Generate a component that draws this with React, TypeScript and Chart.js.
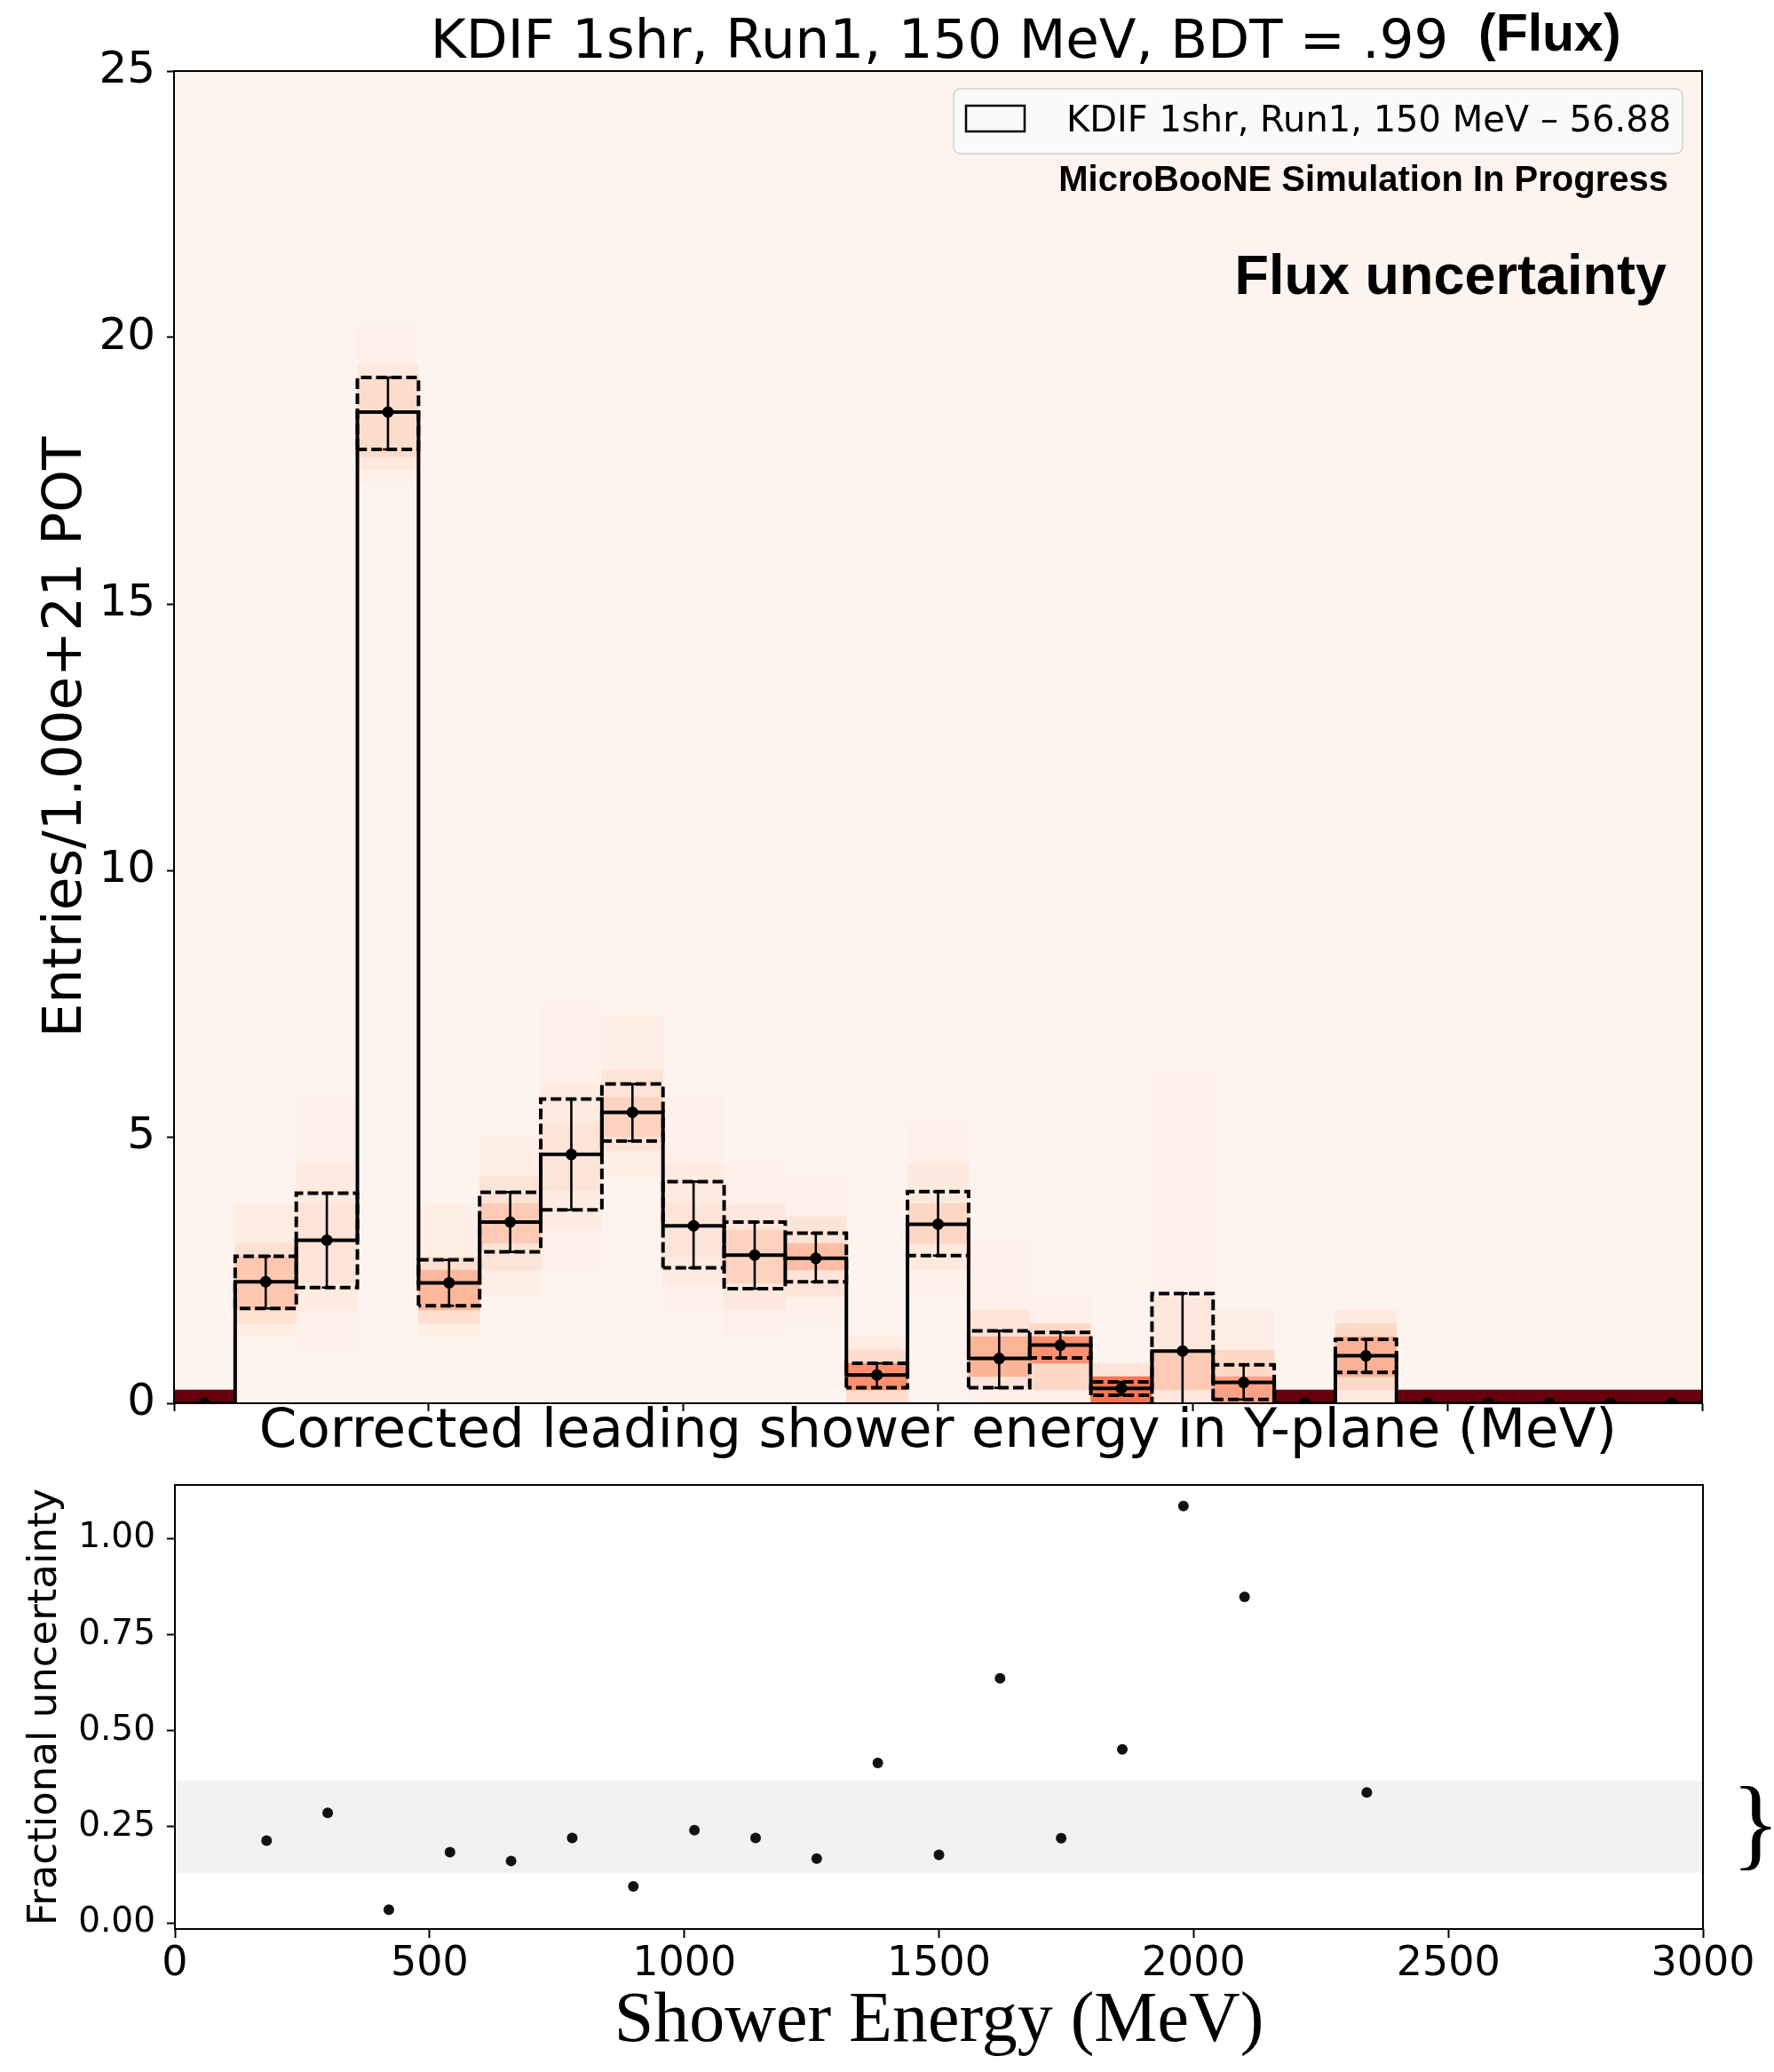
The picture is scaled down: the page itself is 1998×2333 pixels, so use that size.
import React, { useEffect, useRef } from "react";
import { Chart, registerables } from "chart.js";

Chart.register(...registerables);

// ---------------- data ----------------
const binEdges = [0, 120, 240, 360, 480, 600, 720, 840, 960, 1080, 1200, 1320, 1440, 1560, 1680, 1800, 1920, 2040, 2160, 2280, 2400, 2520, 2640, 2760, 2880, 3000];
const binCenters = [60, 180, 300, 420, 540, 660, 780, 900, 1020, 1140, 1260, 1380, 1500, 1620, 1740, 1860, 1980, 2100, 2220, 2340, 2460, 2580, 2700, 2820, 2940];
const entries = [0, 2.28, 3.06, 18.6, 2.26, 3.4, 4.67, 5.46, 3.33, 2.78, 2.72, 0.53, 3.36, 0.84, 1.09, 0.28, 0.98, 0.39, 0, 0.89, 0, 0, 0, 0, 0];
const upperVar = [null, 2.76, 3.94, 19.25, 2.69, 3.96, 5.71, 5.99, 4.16, 3.4, 3.19, 0.75, 3.97, 1.36, 1.33, 0.4, 2.06, 0.72, null, 1.2, null, null, null, null, null];
const lowerVar = [null, 1.78, 2.17, 17.9, 1.83, 2.84, 3.63, 4.92, 2.54, 2.15, 2.28, 0.29, 2.77, 0.29, 0.85, 0.15, -0.08, 0.07, null, 0.58, null, null, null, null, null];

// heat map of the universes (bands of cells per bin, level on the Reds scale)
const haloLo = [null, 1.25, 1.0, 17.25, 1.25, 2.0, 2.5, 4.25, 1.75, 1.25, 1.5, 0, 2.0, 0, 0, 0, 0, 0, null, 0, null, null, null, null, null];
const haloHi = [null, 3.75, 5.75, 20.25, 3.75, 5.0, 7.5, 7.25, 5.75, 4.5, 4.25, 1.25, 5.25, 3.0, 2.0, 0.75, 6.25, 1.75, null, 1.75, null, null, null, null, null];
const haloLv = [0, 0.05, 0.03, 0.03, 0.04, 0.04, 0.03, 0.04, 0.03, 0.03, 0.03, 0.05, 0.03, 0.03, 0.03, 0.1, 0.025, 0.04, 0, 0.06, 0, 0, 0, 0, 0];
const midLo = [null, 1.5, 1.75, 17.5, 1.5, 2.5, 3.25, 4.75, 2.25, 1.75, 2.0, 0, 2.5, 0.25, 0.25, null, 0, 0, null, 0.25, null, null, null, null, null];
const midHi = [null, 3.0, 4.5, 19.5, 2.75, 4.25, 6.0, 6.25, 4.5, 3.75, 3.5, 1.0, 4.5, 1.75, 1.5, null, 2.0, 1.0, null, 1.5, null, null, null, null, null];
const midLv = [0, 0.12, 0.06, 0.07, 0.13, 0.1, 0.06, 0.1, 0.06, 0.08, 0.1, 0.14, 0.07, 0.1, 0.15, 0, 0.08, 0.15, 0, 0.15, 0, 0, 0, 0, 0];
const coreLo = [null, 1.75, 2.25, 17.75, 1.75, 3.0, 4.0, 5.0, 2.75, 2.25, 2.5, 0.25, 3.0, 0.5, 0.75, 0, 0.25, 0, null, 0.5, null, null, null, null, null];
const coreHi = [null, 2.75, 3.75, 19.25, 2.5, 3.75, 5.25, 5.75, 3.75, 3.25, 3.0, 0.75, 3.75, 1.25, 1.25, 0.5, 1.0, 0.5, null, 1.25, null, null, null, null, null];
const coreLv = [0, 0.21, 0.1, 0.14, 0.26, 0.2, 0.1, 0.17, 0.1, 0.17, 0.24, 0.38, 0.16, 0.27, 0.38, 0.47, 0.2, 0.33, 0, 0.28, 0, 0, 0, 0, 0];
const emptyCellTop = [0.25, null, null, null, null, null, null, null, null, null, null, null, null, null, null, null, null, null, 0.25, null, 0.25, 0.25, 0.25, 0.25, 0.25];

const fracEnergy = [180, 300, 420, 540, 660, 780, 900, 1020, 1140, 1260, 1380, 1500, 1620, 1740, 1860, 1980, 2100, 2340];
const fracUnc = [0.214, 0.286, 0.034, 0.184, 0.161, 0.221, 0.095, 0.241, 0.221, 0.167, 0.416, 0.177, 0.636, 0.22, 0.451, 1.084, 0.848, 0.339];
const bandRange = [0.13, 0.37];

const xTicks = [0, 500, 1000, 1500, 2000, 2500, 3000];
const yTicksTop = [0, 5, 10, 15, 20, 25];
const yTicksBottom = [0, 0.25, 0.5, 0.75, 1.0];

const titleText = "KDIF 1shr, Run1, 150 MeV, BDT = .99";
const legendLabel = "KDIF 1shr, Run1, 150 MeV \u2013 56.88";

// ---------------- style helpers ----------------
const REDS = [
  [255, 245, 240], [254, 224, 210], [252, 187, 161], [252, 146, 114], [251, 106, 74],
  [239, 59, 44], [203, 24, 29], [165, 15, 21], [103, 0, 13],
];
function reds(t: number) {
  const p = Math.max(0, Math.min(1, t)) * 8;
  const i = Math.min(7, Math.floor(p));
  const f = p - i;
  const a = REDS[i], b = REDS[i + 1];
  const c = a.map((v, k) => Math.round(v + (b[k] - v) * f));
  return `rgb(${c[0]},${c[1]},${c[2]})`;
}
const BG = "rgb(253,244,239)";
const SANS = "'DejaVu Sans'";
const BOLD = "'Liberation Sans', Arial, sans-serif";
const CAP = 10; // half cap width in MeV

function band(lo: any[], hi: any[], lv: number[]) {
  const ii = binCenters.map((_, i) => i).filter((i) => lo[i] != null && hi[i] != null);
  return {
    data: ii.map((i) => ({ x: binCenters[i], y: [lo[i], hi[i]] })),
    colors: ii.map((i) => reds(lv[i])),
  };
}

function rectPoints() {
  const pts: any[] = [];
  binCenters.forEach((_, i) => {
    if (upperVar[i] == null) return;
    const l = binEdges[i], r = binEdges[i + 1];
    pts.push({ x: l, y: lowerVar[i] }, { x: l, y: upperVar[i] }, { x: r, y: upperVar[i] }, { x: r, y: lowerVar[i] }, { x: l, y: lowerVar[i] }, { x: l, y: null });
  });
  return pts;
}

function errorPoints() {
  const pts: any[] = [];
  binCenters.forEach((x, i) => {
    if (upperVar[i] == null) return;
    const lo = Math.max(0, lowerVar[i] as number);
    pts.push({ x, y: lo }, { x, y: upperVar[i] }, { x, y: null });
    pts.push({ x: x - CAP, y: upperVar[i] }, { x: x + CAP, y: upperVar[i] }, { x, y: null });
    if ((lowerVar[i] as number) > 0) pts.push({ x: x - CAP, y: lowerVar[i] }, { x: x + CAP, y: lowerVar[i] }, { x, y: null });
  });
  return pts;
}

const framePlugin = {
  id: "frame",
  beforeDatasetsDraw(chart: any, _a: any, opts: any) {
    if (!opts.bg) return;
    const { ctx, chartArea: c } = chart;
    ctx.save();
    ctx.fillStyle = opts.bg;
    ctx.fillRect(c.left, c.top, c.right - c.left, c.bottom - c.top);
    ctx.restore();
  },
  afterDatasetsDraw(chart: any) {
    const { ctx, chartArea: c } = chart;
    ctx.save();
    ctx.strokeStyle = "#000";
    ctx.lineWidth = 2;
    ctx.strokeRect(c.left, c.top, c.right - c.left, c.bottom - c.top);
    ctx.restore();
  },
};

const topTextPlugin = {
  id: "topText",
  afterDraw(chart: any) {
    const ctx = chart.ctx;
    ctx.save();
    ctx.fillStyle = "#000";
    ctx.textBaseline = "alphabetic";
    ctx.font = `61px ${SANS}`;
    ctx.textAlign = "center";
    ctx.fillText(titleText, 1058, 65);
    ctx.font = `bold 59px ${BOLD}`;
    ctx.textAlign = "left";
    ctx.fillText("(Flux)", 1665, 57);
    // legend
    ctx.beginPath();
    ctx.roundRect(1074, 100, 821, 73, 8);
    ctx.fillStyle = "#fafafa";
    ctx.fill();
    ctx.strokeStyle = "#d0d0d0";
    ctx.lineWidth = 1.5;
    ctx.stroke();
    ctx.fillStyle = "#f8f8f8";
    ctx.fillRect(1088, 119, 66, 29);
    ctx.strokeStyle = "#000";
    ctx.lineWidth = 2.5;
    ctx.strokeRect(1088, 119, 66, 29);
    ctx.fillStyle = "#000";
    ctx.font = `40px ${SANS}`;
    ctx.fillText(legendLabel, 1201, 148);
    ctx.textAlign = "right";
    ctx.font = `bold 40px ${BOLD}`;
    ctx.fillText("MicroBooNE Simulation In Progress", 1879, 215);
    ctx.font = `bold 63px ${BOLD}`;
    ctx.fillText("Flux uncertainty", 1877, 331);
    ctx.restore();
  },
};

const bottomTextPlugin = {
  id: "bottomText",
  afterDraw(chart: any) {
    const ctx = chart.ctx;
    ctx.save();
    ctx.fillStyle = "#000";
    ctx.font = `114px 'Liberation Serif', serif`;
    ctx.textAlign = "left";
    ctx.textBaseline = "alphabetic";
    ctx.fillText("}", 1950, 441);
    ctx.translate(51, 272);
    ctx.rotate(-Math.PI / 2);
    ctx.font = `45px ${SANS}`;
    ctx.textAlign = "center";
    ctx.textBaseline = "middle";
    ctx.fillText("Fractional uncertainty", 0, 0);
    ctx.restore();
  },
};

export default function App() {
  const topRef = useRef<HTMLCanvasElement>(null);
  const botRef = useRef<HTMLCanvasElement>(null);

  useEffect(() => {
    Chart.defaults.font.family = SANS;
    Chart.defaults.color = "#000";

    const halo = band(haloLo, haloHi, haloLv);
    const mid = band(midLo, midHi, midLv);
    const core = band(coreLo, coreHi, coreLv);
    const emptyCells = band(binCenters.map((_, i) => (emptyCellTop[i] == null ? null : 0)), emptyCellTop, binCenters.map(() => 1));

    const barCommon = { type: "bar", grouped: false, categoryPercentage: 1, barPercentage: 1, borderWidth: 0 };

    const top = new Chart(topRef.current as HTMLCanvasElement, {
      type: "bar",
      data: {
        datasets: [
          {
            type: "line",
            data: binCenters.map((x, i) => ({ x, y: entries[i] })),
            showLine: false,
            pointRadius: 6.5,
            pointBackgroundColor: "#000",
            pointBorderWidth: 0,
            clip: 0,
            order: 0,
          },
          {
            type: "line",
            data: errorPoints(),
            borderColor: "#000",
            borderWidth: 2.6,
            pointRadius: 0,
            spanGaps: false,
            order: 1,
          },
          {
            type: "line",
            data: rectPoints(),
            borderColor: "#000",
            borderWidth: 4,
            borderDash: [12, 5],
            pointRadius: 0,
            spanGaps: false,
            order: 2,
          },
          {
            type: "line",
            data: binEdges.map((x, i) => ({ x, y: entries[Math.min(i, entries.length - 1)] })),
            stepped: true,
            borderColor: "#000",
            borderWidth: 4,
            pointRadius: 0,
            order: 3,
          },
          { ...barCommon, data: emptyCells.data, backgroundColor: emptyCells.colors, order: 10 },
          { ...barCommon, data: core.data, backgroundColor: core.colors, order: 11 },
          { ...barCommon, data: mid.data, backgroundColor: mid.colors, order: 12 },
          { ...barCommon, data: halo.data, backgroundColor: halo.colors, order: 13 },
        ] as any,
      },
      options: {
        animation: false,
        responsive: false,
        devicePixelRatio: 1,
        layout: { padding: { left: 35, right: 81, top: 80, bottom: 0 } },
        plugins: { legend: { display: false }, tooltip: { enabled: false }, frame: { bg: BG } } as any,
        scales: {
          x: {
            type: "linear",
            min: 0,
            max: 3000,
            offset: false,
            afterBuildTicks: (s: any) => { s.ticks = xTicks.map((value) => ({ value })); },
            afterFit: (s: any) => { s.height = 70; s.paddingLeft = 0; s.paddingRight = 0; },
            ticks: { display: false },
            grid: { drawOnChartArea: false, drawTicks: true, tickLength: 9, tickColor: "#000", tickWidth: 2, offset: false },
            border: { display: false },
            title: {
              display: true,
              text: "Corrected leading shower energy in Y-plane (MeV)",
              font: { size: 61, family: SANS },
              padding: { top: 0, bottom: 0 },
              color: "#000",
            },
          },
          y: {
            type: "linear",
            min: 0,
            max: 25,
            afterBuildTicks: (s: any) => { s.ticks = yTicksTop.map((value) => ({ value })); },
            afterFit: (s: any) => { s.width = 161; s.paddingTop = 0; s.paddingBottom = 0; },
            ticks: { font: { size: 50, family: SANS }, padding: 13, color: "#000" },
            grid: { drawOnChartArea: false, drawTicks: true, tickLength: 8, tickColor: "#000", tickWidth: 2 },
            border: { display: false },
            title: {
              display: true,
              text: "Entries/1.00e+21 POT",
              font: { size: 61, family: SANS },
              padding: { top: 4, bottom: 4 },
              color: "#000",
            },
          },
        },
      } as any,
      plugins: [framePlugin, topTextPlugin],
    });

    const bottom = new Chart(botRef.current as HTMLCanvasElement, {
      type: "line",
      data: {
        datasets: [
          {
            data: fracEnergy.map((x, i) => ({ x, y: fracUnc[i] })),
            showLine: false,
            pointRadius: 6,
            pointBackgroundColor: "#111",
            pointBorderWidth: 0,
            order: 0,
          },
          {
            data: [{ x: 0, y: bandRange[1] }, { x: 3000, y: bandRange[1] }],
            borderWidth: 0,
            pointRadius: 0,
            fill: "+1",
            backgroundColor: "#f2f2f2",
            order: 5,
          },
          {
            data: [{ x: 0, y: bandRange[0] }, { x: 3000, y: bandRange[0] }],
            borderWidth: 0,
            pointRadius: 0,
            fill: false,
            order: 6,
          },
        ] as any,
      },
      options: {
        animation: false,
        responsive: false,
        devicePixelRatio: 1,
        layout: { padding: { left: 24, right: 80, top: 22, bottom: 0 } },
        plugins: { legend: { display: false }, tooltip: { enabled: false }, frame: {} } as any,
        scales: {
          x: {
            type: "linear",
            min: 0,
            max: 3000,
            afterBuildTicks: (s: any) => { s.ticks = xTicks.map((value) => ({ value })); },
            afterFit: (s: any) => { s.height = 161; },
            ticks: { font: { size: 46, family: SANS }, padding: 2, color: "#000", maxRotation: 0, callback: (v: any) => String(v) },
            grid: { drawOnChartArea: false, drawTicks: true, tickLength: 10, tickColor: "#000", tickWidth: 2 },
            border: { display: false },
            title: {
              display: true,
              text: "Shower Energy (MeV)",
              font: { size: 80, family: "'Liberation Serif', serif" },
              padding: { top: 0, bottom: 8 },
              color: "#000",
            },
          },
          y: {
            type: "linear",
            min: -0.016,
            max: 1.139,
            afterBuildTicks: (s: any) => { s.ticks = yTicksBottom.map((value) => ({ value })); },
            afterFit: (s: any) => { s.width = 173; s.paddingTop = 0; s.paddingBottom = 0; },
            ticks: { font: { size: 39, family: SANS }, padding: 13, color: "#000", callback: (v: any) => Number(v).toFixed(2) },
            grid: { drawOnChartArea: false, drawTicks: true, tickLength: 9, tickColor: "#000", tickWidth: 2 },
            border: { display: false },
          },
        },
      } as any,
      plugins: [framePlugin, bottomTextPlugin],
    });

    return () => {
      top.destroy();
      bottom.destroy();
    };
  }, []);

  return (
    <div style={{ position: "absolute", left: 0, top: 0, width: 1998, height: 2333, background: "#fff" }}>
      <canvas ref={topRef} width={1998} height={1650} style={{ position: "absolute", left: 0, top: 0, width: 1998, height: 1650 }} />
      <canvas ref={botRef} width={1998} height={683} style={{ position: "absolute", left: 0, top: 1650, width: 1998, height: 683 }} />
    </div>
  );
}
